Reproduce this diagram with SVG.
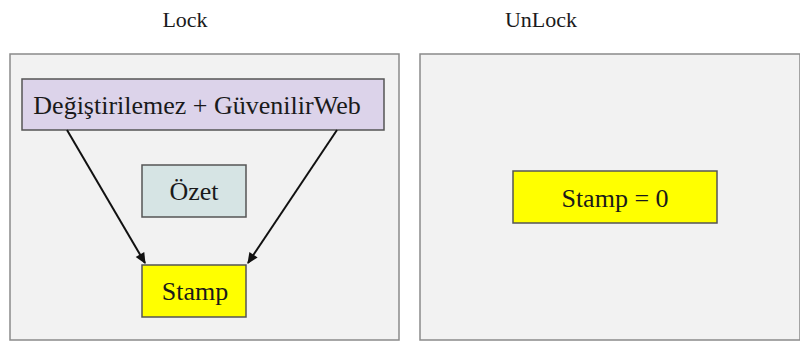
<svg xmlns="http://www.w3.org/2000/svg" width="800" height="341" viewBox="0 0 800 341">
<style>
text{font-family:"Liberation Serif","Times New Roman",serif;fill:#1a1a1a}
.panel{fill:#f2f2f2;stroke:#8a8a8a;stroke-width:1.5}
.box{stroke:#555;stroke-width:1.5}
.title{font-size:22px}
.lbl{font-size:26px}
.edge{stroke:#111;stroke-width:2;fill:none;marker-end:url(#ah)}
</style>
<defs>
<marker id="ah" viewBox="0 0 10 10" refX="9" refY="5" markerWidth="13" markerHeight="11" orient="auto" markerUnits="userSpaceOnUse">
<path d="M0,0.5 L10,5 L0,9.5 Z" fill="#111"/>
</marker>
</defs>
<rect width="800" height="341" fill="#fff"/>
<text class="title" x="185" y="27" text-anchor="middle">Lock</text>
<text class="title" x="541" y="27" text-anchor="middle">UnLock</text>
<rect class="panel" x="10" y="54" width="389" height="286"/>
<rect class="panel" x="420" y="54" width="380" height="286"/>
<g id="n-degis">
<rect class="box" x="22" y="79" width="362" height="51" fill="#dcd3ea"/>
<text class="lbl" x="197" y="114" text-anchor="middle">Değiştirilemez + GüvenilirWeb</text>
</g>
<g id="n-ozet">
<rect class="box" x="142" y="165" width="104" height="52" fill="#d6e4e4"/>
<text class="lbl" x="194" y="200" text-anchor="middle">Özet</text>
</g>
<g id="n-stamp">
<rect class="box" x="142" y="265" width="104" height="52" fill="#ffff00"/>
<text class="lbl" x="195" y="300" text-anchor="middle">Stamp</text>
</g>
<g id="n-stamp0">
<rect class="box" x="513" y="171" width="204" height="52" fill="#ffff00"/>
<text class="lbl" x="615" y="207" text-anchor="middle">Stamp = 0</text>
</g>
<g id="edges">
<line class="edge" x1="67" y1="130" x2="145" y2="263"/>
<line class="edge" x1="337" y1="130" x2="248" y2="263"/>
</g>
</svg>
